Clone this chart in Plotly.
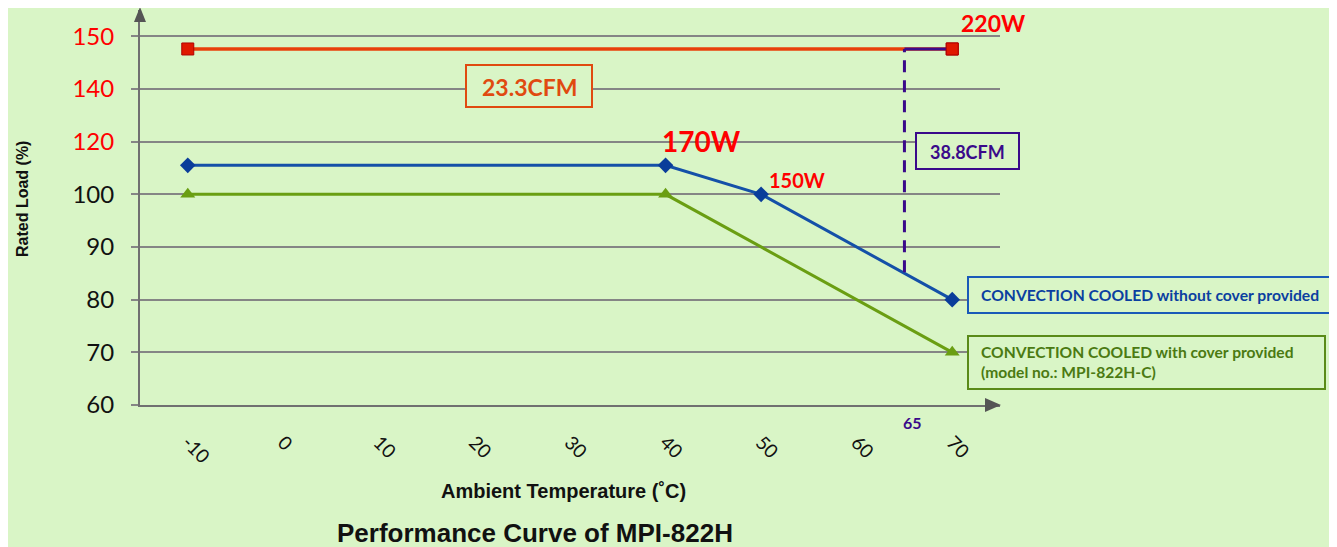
import plotly.graph_objects as go

# ---------------- data (axis units; y tick labels are relabelled) ----------------
temp_red = [-10, 70]
load_red = [127.6, 127.6]           # 220W, 23.3CFM line

temp_blue = [-10, 40, 50, 70]
load_blue = [105.5, 105.5, 100, 80]  # convection cooled without cover

temp_green = [-10, 40, 70]
load_green = [100, 100, 70]          # convection cooled with cover

temp_dash_v = [65, 65]
load_dash_v = [85.2, 127.6]
temp_dash_h = [65, 70]
load_dash_h = [127.6, 127.6]

x_ticks = [-10, 0, 10, 20, 30, 40, 50, 60, 70]
y_tickvals = [60, 70, 80, 90, 100, 110, 120, 130]
y_ticklabels = ["60", "70", "80", "90", "100", "120", "140", "150"]
y_label_colors = ["#111", "#111", "#111", "#111", "#111", "#ff0000", "#ff0000", "#ff0000"]

# ---------------- layout geometry ----------------
# page is rendered with an 8px body margin: figure pixel = page pixel - 8
OFF = 8
FW, FH = 1337, 547
PLOT_L, PLOT_R, PLOT_T, PLOT_B = 140, 1000, 10, 405   # page pixels of plot area
L = PLOT_L - OFF
T = PLOT_T - OFF
R = FW - (PLOT_R - OFF)
B = FH - (PLOT_B - OFF)
PW, PH = PLOT_R - PLOT_L, PLOT_B - PLOT_T
BG = "#d9f5c6"

def px(x):
    return (x - PLOT_L) / PW

def py(y):
    return (PLOT_B - y) / PH

fig = go.Figure()

fig.add_trace(go.Scatter(x=temp_green, y=load_green, mode="lines+markers",
                         line=dict(color="#6a9e12", width=3),
                         marker=dict(symbol="triangle-up", size=13, color="#6a9e12"),
                         showlegend=False))
fig.add_trace(go.Scatter(x=temp_blue, y=load_blue, mode="lines+markers",
                         line=dict(color="#1450a8", width=3),
                         marker=dict(symbol="diamond", size=12, color="#0a3d9a"),
                         showlegend=False))
fig.add_trace(go.Scatter(x=temp_red, y=load_red, mode="lines+markers",
                         line=dict(color="#e8400a", width=3.5),
                         marker=dict(symbol="square", size=12, color="#e01800",
                                     line=dict(color="#b00000", width=1)),
                         showlegend=False))
fig.add_trace(go.Scatter(x=temp_dash_v, y=load_dash_v, mode="lines",
                         line=dict(color="#3a0a8a", width=3, dash="12px,8px"),
                         showlegend=False))
fig.add_trace(go.Scatter(x=temp_dash_h, y=load_dash_h, mode="lines",
                         line=dict(color="#3a0a8a", width=3),
                         showlegend=False))
fig.add_trace(go.Scatter(x=[temp_red[-1]], y=[load_red[-1]], mode="markers",
                         marker=dict(symbol="square", size=12, color="#e01800",
                                     line=dict(color="#b00000", width=1)),
                         showlegend=False))

ticktext = [f"<span style='color:{c}'>{t}</span>" for t, c in zip(y_ticklabels, y_label_colors)]

LATO = "Lato"
ARIAL = "Liberation Sans"

shapes = [
    # y axis arrow
    dict(type="path", xref="paper", yref="paper", layer="above",
         path=f"M {px(140)},{py(7)} L {px(134)},{py(22)} L {px(146)},{py(22)} Z",
         fillcolor="#555555", line=dict(width=0)),
    # x axis arrow
    dict(type="path", xref="paper", yref="paper", layer="above",
         path=f"M {px(1001)},{py(405)} L {px(985)},{py(398)} L {px(985)},{py(412)} Z",
         fillcolor="#555555", line=dict(width=0)),
    # 23.3CFM box
    dict(type="rect", xref="paper", yref="paper", layer="above",
         x0=px(466), x1=px(592), y0=py(107), y1=py(65),
         fillcolor=BG, line=dict(color="#e04a10", width=2)),
    # 38.8CFM box
    dict(type="rect", xref="paper", yref="paper", layer="above",
         x0=px(916), x1=px(1019), y0=py(169), y1=py(133),
         fillcolor=BG, line=dict(color="#3a0a8a", width=2)),
    # blue legend box
    dict(type="rect", xref="paper", yref="paper", layer="above",
         x0=px(968), x1=px(1332), y0=py(313), y1=py(277),
         fillcolor=BG, line=dict(color="#1a5ab8", width=2)),
    # green legend box
    dict(type="rect", xref="paper", yref="paper", layer="above",
         x0=px(968), x1=px(1325), y0=py(389), y1=py(336),
         fillcolor=BG, line=dict(color="#5a8a18", width=2)),
]

def ann(x, y, text, size, color, family=LATO, bold=True, xanchor="center", **kw):
    t = f"<b>{text}</b>" if bold else text
    return dict(x=px(x), y=py(y), xref="paper", yref="paper", text=t, showarrow=False,
                xanchor=xanchor, yanchor="middle",
                font=dict(family=family, size=size, color=color), **kw)

annotations = [
    ann(993, 23, "220W", 23, "#ff0000"),
    ann(529, 87, "23.3CFM", 23, "#e04a10"),
    ann(701, 141, "170W", 28, "#ff0000"),
    ann(797, 180, "150W", 20, "#ff0000"),
    ann(967, 152, "38.8CFM", 18, "#3a0a8a"),
    ann(979, 295, "CONVECTION COOLED without cover provided", 15.7, "#0b3fa0", xanchor="left"),
    ann(979, 362, "CONVECTION COOLED with cover provided<br>(model no.: MPI-822H-C)", 15.6,
        "#4b7a12", xanchor="left", align="left"),
    ann(912, 422, "65", 16, "#3a0a8a"),
    ann(563, 491, "Ambient Temperature (˚C)", 20, "#111111", family=ARIAL),
    ann(535, 533, "Performance Curve of MPI-822H", 26, "#111111", family=ARIAL),
    ann(22, 199, "Rated Load (%)", 16, "#111111", family=ARIAL, textangle=-90),
]

fig.update_layout(
    width=FW, height=FH,
    margin=dict(l=L, r=R, t=T, b=B, pad=0),
    paper_bgcolor=BG,
    plot_bgcolor=BG,
    shapes=shapes,
    annotations=annotations,
    xaxis=dict(range=[-15, 75], tickvals=x_ticks, ticktext=[str(v) for v in x_ticks],
               tickangle=45, showgrid=False, zeroline=False,
               showline=True, linecolor="#707070", linewidth=2,
               ticks="", ticklabelstandoff=17,
               tickfont=dict(family=LATO, size=19, color="#111111")),
    yaxis=dict(range=[60, 135], tickvals=y_tickvals, ticktext=ticktext,
               showgrid=True, gridcolor="#858585", gridwidth=1.5, zeroline=False,
               showline=True, linecolor="#707070", linewidth=2,
               ticks="outside", ticklen=7, tickcolor="#858585", tickwidth=1.5,
               ticklabelstandoff=12,
               tickfont=dict(family=LATO, size=24, color="#111111")),
)

fig.write_html("out.html")
